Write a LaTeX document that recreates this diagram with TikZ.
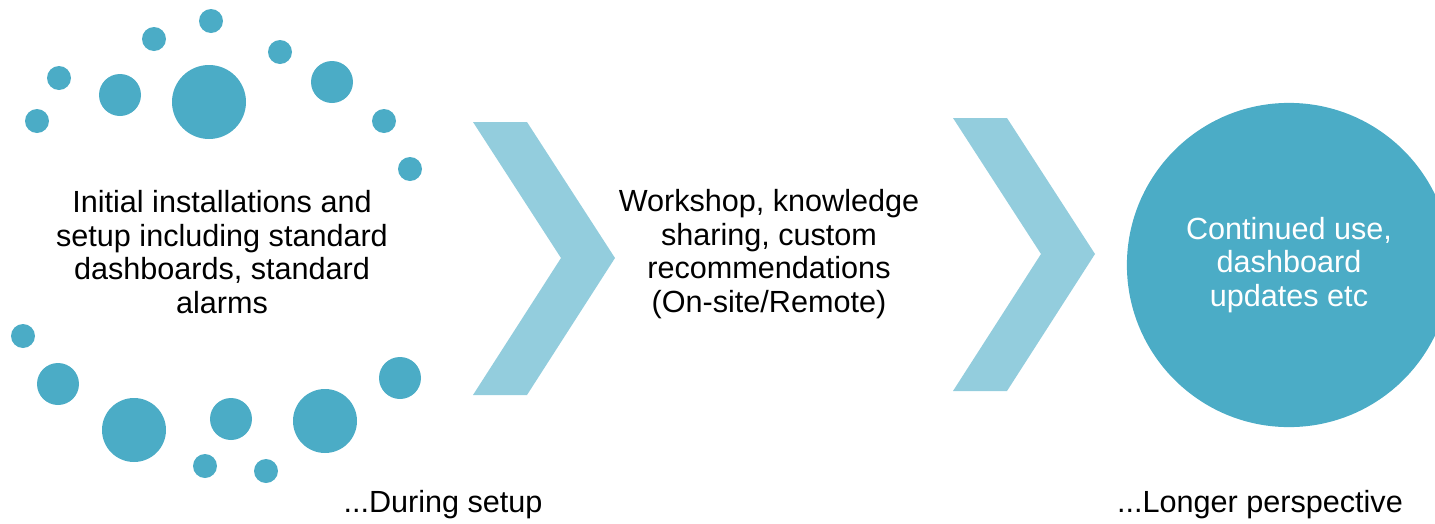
\documentclass[tikz,border=0pt]{standalone}
\usepackage{fontspec}
\setmainfont{Liberation Sans}
\definecolor{dotblue}{HTML}{4BACC6}
\definecolor{arrowblue}{HTML}{93CDDD}

\begin{document}
\begin{tikzpicture}[x=0.01cm, y=-0.01cm,
      every node/.style = {align=center, inner sep=0pt,
        font=\fontsize{8.7}{9.6}\selectfont},
      chevron/.style = {fill=arrowblue},
      goal/.style = {circle, fill=dotblue, text=white,
        minimum size=3.24cm}]
  \useasboundingbox (0,0) rectangle (1435,524);
  \clip (0,0) rectangle (1435,524);
  % scattered dots round the first step
  \foreach \x/\y/\r in {211/21/12, 154/39/12, 280/52/12, 59/78/12,
      120/95/21, 209/102/37, 332/82/21, 37/121/12, 384/121/12,
      410/169/12, 23/336/12, 58/384/21, 400/378/21, 134/430/32,
      231/419/21, 325/421/32, 205/466/12, 266/471/12}
    \fill[dotblue] (\x,\y) circle [radius=\r*0.01cm];
  \node (setup) at (222,252) {Initial installations and\\setup including standard\\dashboards, standard\\alarms};
  \fill[chevron] (473,122) -- (527,122) -- (615,258) -- (527,395)
    -- (473,395) -- (561,258) -- cycle;
  \node (workshop) at (769,254) {Workshop, knowledge\\sharing, custom\\recommendations\\(On-site/Remote)};
  \fill[chevron] (953,118) -- (1007,118) -- (1095,254) -- (1007,391)
    -- (953,391) -- (1041,254) -- cycle;
  \node[goal] (use) at (1289,265) {Continued use,\\dashboard\\updates etc};
  \node (during) at (443,505) {...During setup};
  \node (longer) at (1260,505) {...Longer perspective};
\end{tikzpicture}
\end{document}
